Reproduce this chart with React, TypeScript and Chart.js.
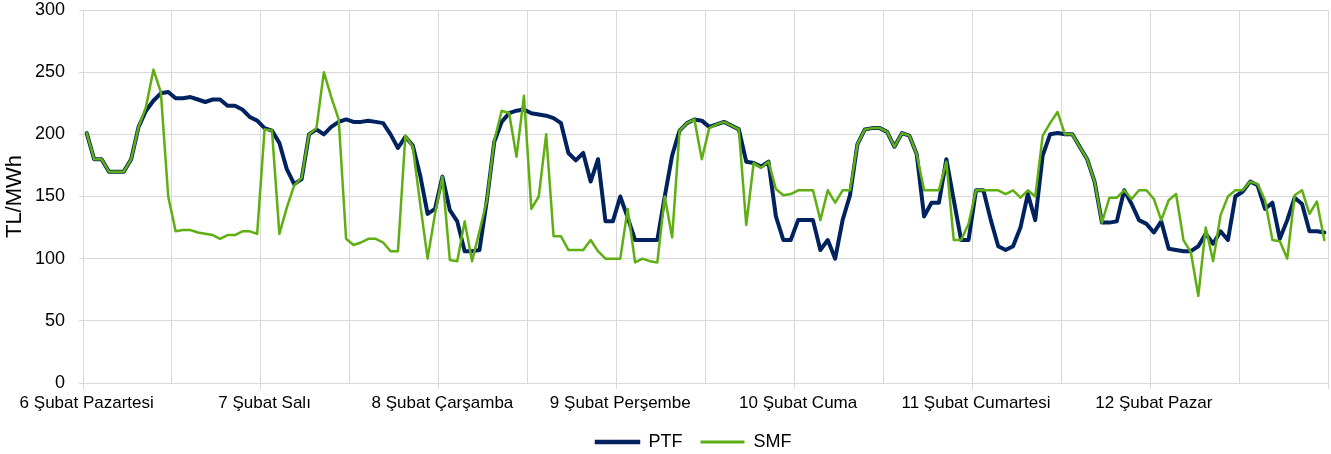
import React, { useEffect, useRef } from "react";
import { Chart, registerables } from "chart.js";

Chart.register(...registerables);

const dayLabels = [
  "6 Şubat Pazartesi",
  "7 Şubat Salı",
  "8 Şubat Çarşamba",
  "9 Şubat Perşembe",
  "10 Şubat Cuma",
  "11 Şubat Cumartesi",
  "12 Şubat Pazar",
];

const ptfDay1 = [201, 180, 180, 170, 170, 170, 180, 206, 219, 227, 233, 234, 229, 229, 230, 228, 226, 228, 228, 223, 223, 220, 214, 211];
const ptfDay2 = [205, 203, 193, 172, 160, 164, 200, 204, 200, 206, 210, 212, 210, 210, 211, 210, 209, 200, 189, 198, 191, 167, 136, 140];
const ptfDay3 = [166, 139, 130, 106, 106, 107, 147, 194, 210, 217, 219, 220, 217, 216, 215, 213, 209, 185, 179, 185, 162, 180, 130, 130];
const ptfDay4 = [150, 133, 115, 115, 115, 115, 150, 183, 203, 209, 212, 211, 206, 208, 210, 207, 204, 178, 177, 174, 178, 134, 115, 115];
const ptfDay5 = [131, 131, 131, 107, 115, 100, 131, 151, 192, 204, 205, 205, 202, 190, 201, 199, 184, 134, 145, 145, 180, 147, 115, 115];
const ptfDay6 = [155, 155, 131, 110, 107, 110, 125, 152, 131, 183, 200, 201, 200, 200, 190, 180, 162, 129, 129, 130, 155, 144, 131, 128];
const ptfDay7 = [121, 130, 108, 107, 106, 106, 110, 120, 112, 122, 115, 150, 154, 162, 159, 140, 145, 116, 131, 149, 144, 122, 122, 121];

const smfDay1 = [201, 180, 180, 170, 170, 170, 180, 206, 222, 252, 234, 150, 122, 123, 123, 121, 120, 119, 116, 119, 119, 122, 122, 120];
const smfDay2 = [204, 203, 120, 141, 159, 165, 200, 205, 250, 230, 212, 116, 111, 113, 116, 116, 113, 106, 106, 199, 190, 144, 100, 136];
const smfDay3 = [166, 99, 98, 130, 98, 122, 147, 195, 219, 217, 182, 231, 140, 150, 200, 118, 118, 107, 107, 107, 115, 106, 100, 100];
const smfDay4 = [100, 140, 97, 100, 98, 97, 150, 117, 203, 209, 212, 180, 205, 208, 210, 207, 204, 127, 177, 173, 178, 156, 151, 152];
const smfDay5 = [155, 155, 155, 131, 155, 145, 155, 155, 192, 204, 205, 205, 202, 190, 201, 199, 184, 155, 155, 155, 178, 115, 115, 128];
const smfDay6 = [155, 155, 155, 155, 152, 155, 149, 155, 150, 199, 209, 218, 200, 200, 190, 180, 162, 129, 149, 149, 155, 148, 155, 155];
const smfDay7 = [148, 131, 147, 152, 115, 105, 70, 125, 98, 135, 150, 155, 155, 162, 160, 147, 115, 114, 100, 151, 155, 136, 146, 115];

const yTicks = [0, 50, 100, 150, 200, 250, 300];

const ptf = [...ptfDay1, ...ptfDay2, ...ptfDay3, ...ptfDay4, ...ptfDay5, ...ptfDay6, ...ptfDay7];
const smf = [...smfDay1, ...smfDay2, ...smfDay3, ...smfDay4, ...smfDay5, ...smfDay6, ...smfDay7];

const HOURS_PER_DAY = 24;
const labels = ptf.map((_, i) => {
  const d = Math.floor(i / HOURS_PER_DAY);
  const h = i % HOURS_PER_DAY;
  return `${dayLabels[d]} ${String(h).padStart(2, "0")}:00`;
});

const FONT = "'Liberation Sans', Arial, sans-serif";
const GRID = "#d9d9d9";
const PTF_COLOR = "#002360";
const SMF_COLOR = "#5fae12";

const legendShift = {
  id: "legendShift",
  afterLayout(chart: any) {
    const lg = chart.legend;
    if (lg) {
      lg.left -= 12;
      lg.right -= 12;
    }
  },
};

export default function App() {
  const ref = useRef<HTMLCanvasElement | null>(null);

  useEffect(() => {
    if (!ref.current) return;
    const chart = new Chart(ref.current, {
      type: "line",
      data: {
        labels,
        datasets: [
          {
            label: "PTF",
            data: ptf,
            borderColor: PTF_COLOR,
            backgroundColor: PTF_COLOR,
            borderWidth: 4,
            pointRadius: 0,
            tension: 0,
            borderJoinStyle: "round",
            borderCapStyle: "round",
            order: 1,
          },
          {
            label: "SMF",
            data: smf,
            borderColor: SMF_COLOR,
            backgroundColor: SMF_COLOR,
            borderWidth: 2.5,
            pointRadius: 0,
            tension: 0,
            borderJoinStyle: "round",
            borderCapStyle: "round",
            order: 0,
          },
        ],
      },
      plugins: [legendShift],
      options: {
        responsive: false,
        animation: false,
        layout: { padding: { left: 0, right: 3, top: 10, bottom: -7 } },
        plugins: {
          tooltip: { enabled: false },
          legend: {
            position: "bottom",
            fullSize: false,
            labels: {
              boxWidth: 44,
              boxHeight: 3,
              padding: 18,
              color: "#000",
              font: { family: FONT, size: 18 },
              generateLabels: (c: any) =>
                c.data.datasets.map((ds: any, i: number) => ({
                  text: ds.label,
                  fillStyle: ds.borderColor,
                  strokeStyle: ds.borderColor,
                  lineWidth: i === 0 ? 1.5 : 0,
                  hidden: false,
                  datasetIndex: i,
                  fontColor: "#000",
                })),
            },
          },
        },
        scales: {
          x: {
            type: "category",
            offset: true,
            afterFit: (s: any) => {
              s.height = 32;
            },
            grid: {
              offset: true,
              drawOnChartArea: true,
              tickLength: 6,
              color: (ctx: any) =>
                ctx.index === undefined || ctx.index % 12 === 0 ? GRID : "rgba(0,0,0,0)",
              tickColor: (ctx: any) =>
                ctx.index === undefined || ctx.index % 24 === 0 ? GRID : "rgba(0,0,0,0)",
            },
            border: { color: GRID, width: 1 },
            ticks: {
              autoSkip: false,
              maxRotation: 0,
              minRotation: 0,
              padding: 4,
              color: "#000",
              font: { family: FONT, size: 17 },
              callback: (_v: any, idx: number) =>
                idx % HOURS_PER_DAY === 0 ? dayLabels[idx / HOURS_PER_DAY] : "",
            },
          },
          y: {
            min: 0,
            max: 300,
            afterFit: (s: any) => {
              s.width = 83;
              s.paddingTop = 0;
              s.paddingBottom = 0;
            },
            afterBuildTicks: (s: any) => {
              s.ticks = yTicks.map((v) => ({ value: v }));
            },
            grid: { color: GRID, tickLength: 4, tickColor: GRID },
            border: { color: GRID, width: 1 },
            ticks: {
              padding: 14,
              color: "#000",
              font: { family: FONT, size: 18 },
            },
            title: {
              display: true,
              text: "TL/MWh",
              color: "#000",
              font: { family: FONT, size: 22 },
              padding: { top: 2, bottom: 0 },
            },
          },
        },
      },
    });
    return () => chart.destroy();
  }, []);

  return (
    <div style={{ position: "absolute", left: 0, top: 0, width: 1331, height: 454, background: "#fff" }}>
      <canvas ref={ref} width={1331} height={454} style={{ display: "block" }} />
    </div>
  );
}
